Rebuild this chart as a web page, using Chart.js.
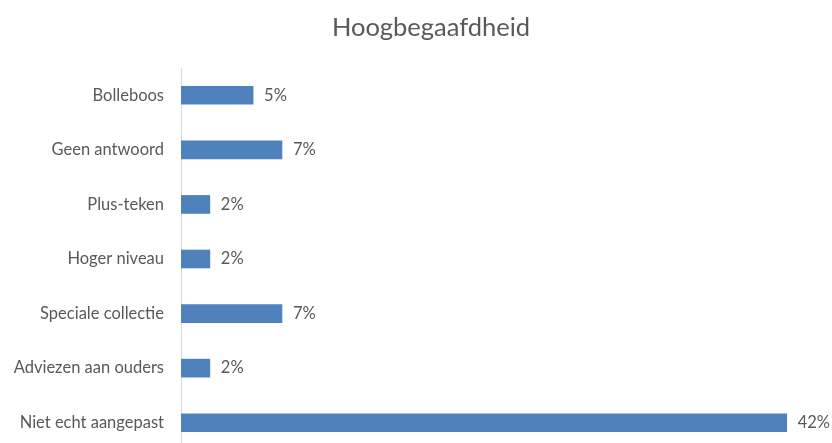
<!DOCTYPE html>
<html>
<head>
<meta charset="utf-8">
<script src="https://cdn.jsdelivr.net/npm/chart.js@4/dist/chart.umd.min.js"></script>
<style>
html,body{margin:0;padding:0;background:#fff;overflow:hidden;}
#wrap{position:relative;width:832px;height:451px;}
</style>
</head>
<body>
<div id="wrap"><canvas id="grafiek"></canvas></div>
<script>
var titel = "Hoogbegaafdheid";
var categorieen = ["Bolleboos","Geen antwoord","Plus-teken","Hoger niveau","Speciale collectie","Adviezen aan ouders","Niet echt aangepast"];
var percentages = [5,7,2,2,7,2,42];

var tekstkleur = "#595959";
var lettertype = "Lato, 'Open Sans', sans-serif";

// titel boven de grafiek
var titelPlugin = {
	id:"titel",
	afterDraw:function(chart){
		var ctx = chart.ctx;
		ctx.save();
		ctx.fillStyle = tekstkleur;
		ctx.font = "25.5px " + lettertype;
		ctx.textAlign = "center";
		ctx.textBaseline = "middle";
		ctx.fillText(titel, 431, 28);
		ctx.restore();
	}
};

// percentage rechts naast elke balk
var labelPlugin = {
	id:"labels",
	afterDatasetsDraw:function(chart){
		var ctx = chart.ctx;
		ctx.save();
		ctx.fillStyle = tekstkleur;
		ctx.font = "16.5px " + lettertype;
		ctx.textAlign = "left";
		ctx.textBaseline = "middle";
		chart.getDatasetMeta(0).data.forEach(function(bar, i){
			ctx.fillText(percentages[i] + "%", bar.x + 11, bar.y);
		});
		ctx.restore();
	}
};

new Chart(document.getElementById("grafiek"), {
	type:"bar",
	data:{
		labels:categorieen,
		datasets:[{
			data:percentages,
			backgroundColor:"#4F81BD",
			barThickness:18
		}]
	},
	options:{
		indexAxis:"y",
		responsive:true,
		maintainAspectRatio:false,
		animation:false,
		layout:{padding:{top:68,bottom:1,left:0,right:2}},
		plugins:{legend:{display:false},tooltip:{enabled:false},title:{display:false}},
		scales:{
			x:{display:false,min:0,max:45},
			y:{
				grid:{display:false,drawTicks:false},
				border:{display:true,color:"#D9D9D9",width:1},
				ticks:{color:tekstkleur,font:{family:lettertype,size:16.5},padding:17},
				afterFit:function(scale){
					scale.width = 181;
					scale.paddingTop = 0;
					scale.paddingBottom = 0;
				}
			}
		}
	},
	plugins:[titelPlugin,labelPlugin]
});
</script>
</body>
</html>
